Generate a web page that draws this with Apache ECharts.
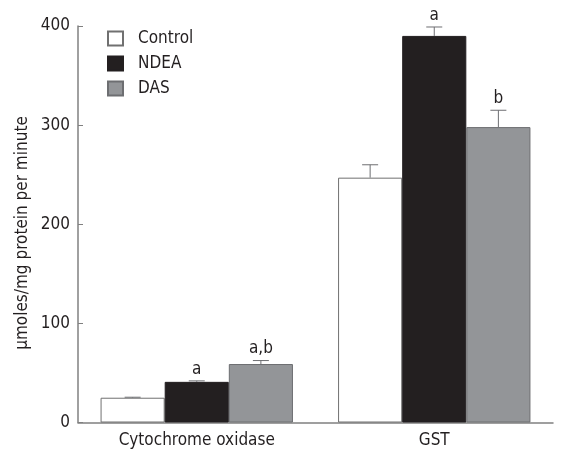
<!DOCTYPE html>
<html><head><meta charset="utf-8">
<script src="https://cdn.jsdelivr.net/npm/echarts@6/dist/echarts.min.js"></script>
<style>html,body{margin:0;padding:0;background:#fff}#c{width:564px;height:457px}</style>
</head><body><div id="c"></div>
<script>
const categories = ['Cytochrome oxidase', 'GST'];
const seriesNames = ['Control', 'NDEA', 'DAS'];
const controlValues = [25, 247];
const ndeaValues = [41, 390];
const dasValues = [59, 298];
const controlErrors = [0.5, 13];
const ndeaErrors = [1, 9];
const dasErrors = [3.5, 17];
const controlSig = ['', ''];
const ndeaSig = ['a', 'a'];
const dasSig = ['a,b', 'b'];
const yTicks = [0, 100, 200, 300, 400];
const yTitle = 'µmoles/mg protein per minute';

const FONT = 'DejaVu Sans Condensed, DejaVu Sans';
const FS = 17;
const values = [controlValues, ndeaValues, dasValues];
const errors = [controlErrors, ndeaErrors, dasErrors];
const sigs = [controlSig, ndeaSig, dasSig];
const colors = ['#ffffff', '#231f20', '#939598'];
const borders = ['#707070', '#231f20', '#6d6e71'];
const CAT_GAP = 0.19;

const chart = echarts.init(document.getElementById('c'));
const series = [];
values.forEach((vals, i) => {
  series.push({
    name: seriesNames[i], type: 'bar', data: vals,
    barGap: '0%', barCategoryGap: (CAT_GAP * 100) + '%',
    itemStyle: { color: colors[i], borderColor: borders[i], borderWidth: 1 },
    emphasis: { disabled: true }
  });
});
values.forEach((vals, i) => {
  series.push({
    type: 'custom', silent: true, z: 5,
    data: vals.map((v, k) => [k, v, errors[i][k]]),
    renderItem: function (params, api) {
      const k = api.value(0);
      const band = api.size([1, 0])[0];
      const group = band * (1 - CAT_GAP);
      const bw = group / 3;
      const top = api.coord([k, api.value(1)]);
      const hi = api.coord([k, api.value(1) + api.value(2)]);
      const x = top[0] - group / 2 + bw * (i + 0.5);
      const cap = 8;
      const lineStyle = { stroke: '#6d6e71', lineWidth: 1 };
      const children = [
        { type: 'line', shape: { x1: x, y1: top[1], x2: x, y2: hi[1] }, style: lineStyle },
        { type: 'line', shape: { x1: x - cap, y1: hi[1], x2: x + cap, y2: hi[1] }, style: lineStyle }
      ];
      const lab = sigs[i][k];
      if (lab) {
        children.push({ type: 'text', style: { text: lab, x: x, y: hi[1] - 3, align: 'center', verticalAlign: 'bottom', fontFamily: FONT, fontSize: FS, fill: '#231f20' } });
      }
      return { type: 'group', children: children };
    }
  });
});

chart.setOption({
  animation: false,
  grid: { left: 78, right: 11, top: 26, bottom: 34.5 },
  legend: {
    data: seriesNames, orient: 'vertical', left: 102, top: 25,
    itemWidth: 15, itemHeight: 14, itemGap: 8,
    icon: 'rect',
    textStyle: { fontFamily: FONT, fontSize: FS, color: '#231f20', padding: [0, 0, 0, 10] },
    selectedMode: false
  },
  graphic: [{
    type: 'text', x: 23, y: 233, rotation: Math.PI / 2,
    style: { text: yTitle, align: 'center', verticalAlign: 'middle', fontFamily: FONT, fontSize: FS, fill: '#231f20' }
  }],
  xAxis: {
    type: 'category', data: categories,
    axisLine: { lineStyle: { color: '#808080', width: 1.5 } },
    axisTick: { show: false },
    axisLabel: { fontFamily: FONT, fontSize: FS, color: '#231f20', margin: 10 }
  },
  yAxis: {
    type: 'value', min: yTicks[0], max: yTicks[yTicks.length - 1], interval: 100,
    axisLine: { show: true, lineStyle: { color: '#808080', width: 1.5 } },
    axisTick: { show: true, inside: true, length: 5, lineStyle: { color: '#808080' } },
    axisLabel: { fontFamily: FONT, fontSize: FS, color: '#231f20', margin: 8 },
    splitLine: { show: false }
  },
  series: series
});
</script></body></html>
